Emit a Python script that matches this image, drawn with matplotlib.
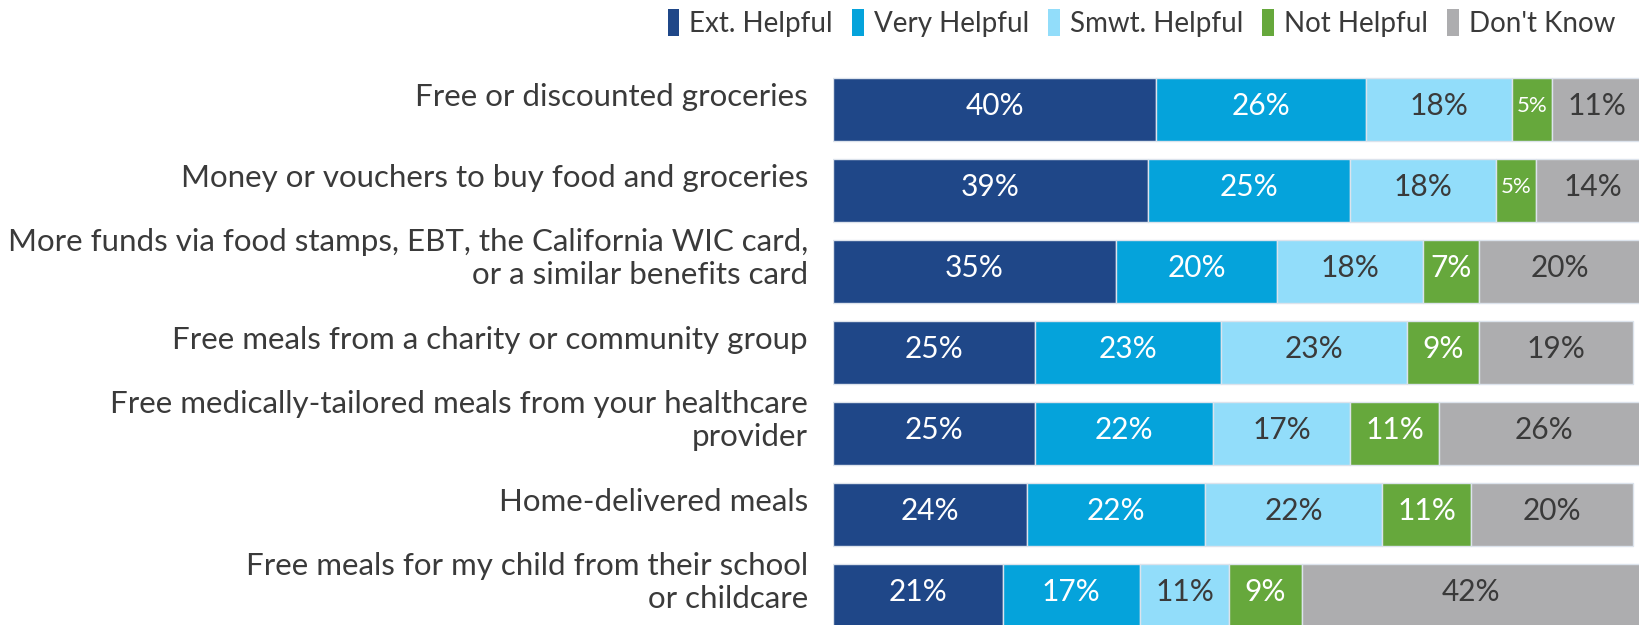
import matplotlib
matplotlib.use("Agg")
import matplotlib.pyplot as plt
from matplotlib.patches import Patch

plt.rcParams["font.family"] = ["Lato", "DejaVu Sans"]

categories = [
    "Free or discounted groceries",
    "Money or vouchers to buy food and groceries",
    "More funds via food stamps, EBT, the California WIC card,\nor a similar benefits card",
    "Free meals from a charity or community group",
    "Free medically-tailored meals from your healthcare\nprovider",
    "Home-delivered meals",
    "Free meals for my child from their school\nor childcare",
]
series = ["Ext. Helpful", "Very Helpful", "Smwt. Helpful", "Not Helpful", "Don't Know"]
ext_helpful = [40, 39, 35, 25, 25, 24, 21]
very_helpful = [26, 25, 20, 23, 22, 22, 17]
smwt_helpful = [18, 18, 18, 23, 17, 22, 11]
not_helpful = [5, 5, 7, 9, 11, 11, 9]
dont_know = [11, 14, 20, 19, 26, 20, 42]

colors = ["#1f4788", "#05a3db", "#92ddfa", "#66a83c", "#adadaf"]
text_colors = ["white", "white", "#3a3a3a", "white", "#3a3a3a"]
values = [ext_helpful, very_helpful, smwt_helpful, not_helpful, dont_know]

fig = plt.figure(figsize=(16.4, 6.25), dpi=100)
ax = fig.add_axes([833 / 1640, 0, 808 / 1640, 1])

n = len(categories)
ys = list(range(n))
left = [0] * n
for vals, col, tc in zip(values, colors, text_colors):
    ax.barh(ys, vals, left=left, height=0.78, color=col,
            edgecolor="#dce3ec", linewidth=1)
    for y, l, v in zip(ys, left, vals):
        ax.text(l + v / 2, y - 0.04, f"{v}%", ha="center", va="center",
                color=tc, fontsize=16 if v <= 5 else 21.5)
    left = [a + b for a, b in zip(left, vals)]

ax.set_xlim(0, 100)
ax.set_ylim((625 - 109.5) / 81, -109.5 / 81)
ax.axis("off")

# category labels sit a little above the bar centre, right-aligned
for y, cat in zip(ys, categories):
    ax.text(-3.1, y - 0.16, cat, ha="right", va="center", color="#3a3a3a",
            fontsize=22.5, linespacing=1.2)

handles = [Patch(facecolor=c, edgecolor="none") for c in colors]
fig.legend(handles, series, loc="upper right", bbox_to_anchor=(1.0, 1.025),
           ncol=5, frameon=False, fontsize=20, handlelength=0.42,
           handleheight=1.1, handletextpad=0.35, columnspacing=0.7,
           labelcolor="#3a3a3a")

fig.savefig("out.png", dpi=100)
